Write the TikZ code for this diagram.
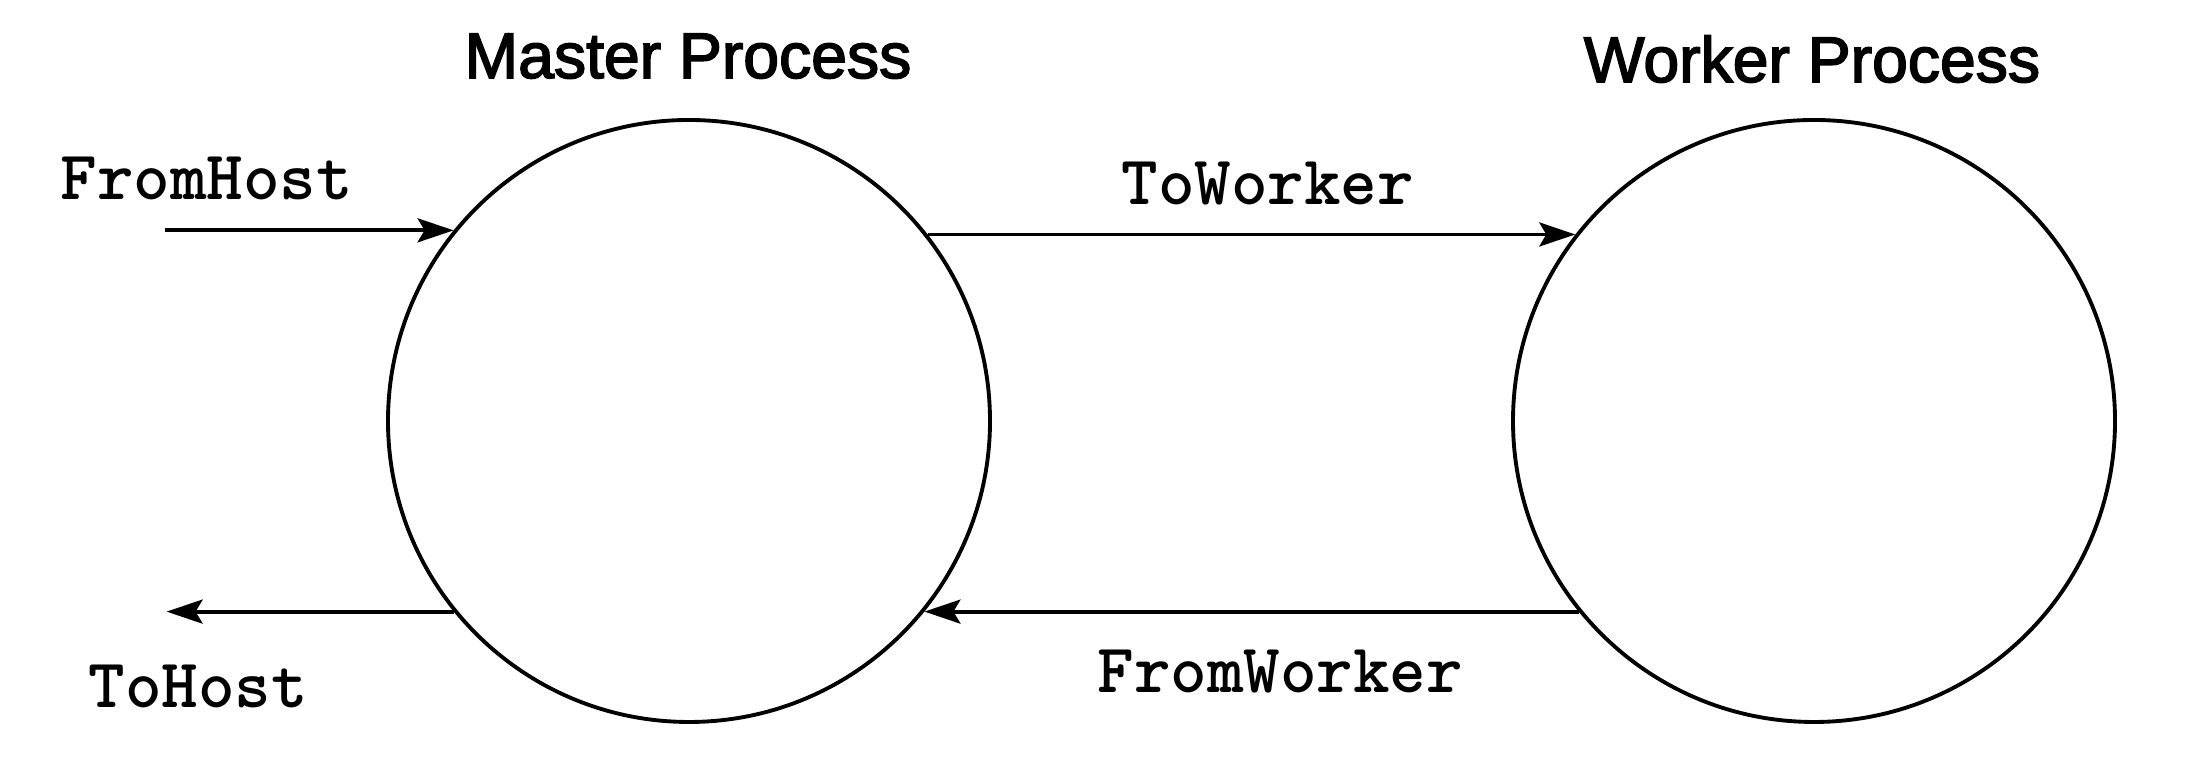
\documentclass[tikz,border=0pt]{standalone}
\usepackage{fontspec}
\newfontfamily\titlefont[FakeBold=2.5]{Liberation Sans}
\usetikzlibrary{arrows.meta}
\begin{document}
\begin{tikzpicture}[
                    proc/.style={draw, circle, line width=1.1pt, inner sep=0pt, minimum size=6.02cm},
                    title/.style={font=\titlefont\fontsize{18.3}{20}\selectfont, anchor=base},
                    chan/.style={font=\ttfamily\fontseries{b}\fontsize{19.8}{22}\selectfont, anchor=base west, inner sep=0pt},
                    flow/.style={line width=1.1pt, -{Stealth[length=0.36cm, width=0.24cm, inset=0.07cm]}}
                    ]
                    \useasboundingbox (0,0) rectangle (22,7.75);

                    % the two processes
                    \node[proc] (master) at (6.89,3.54) {};
                    \node[proc] (worker) at (18.14,3.54) {};
                    \node[title] (mastertitle) at (6.88,6.97) {Master Process};
                    \node[title] (workertitle) at (18.12,6.93) {Worker Process};

                    % free ends on the host side
                    \path (master.141) ++(-2.89,0) coordinate (hostin);
                    \path (master.219) ++(-2.87,0) coordinate (hostout);

                    \foreach \i/\j in {hostin/master.141, master.219/hostout, master.38/worker.142, worker.219/master.321}{
                        \draw[flow] (\i) -- (\j);
                    }

                    % channel names
                    \node[chan] (fromhost) at (0.60,5.75) {FromHost};
                    \node[chan] (tohost) at (0.88,0.67) {ToHost};
                    \node[chan] (toworker) at (11.21,5.70) {ToWorker};
                    \node[chan] (fromworker) at (10.97,0.82) {FromWorker};
                \end{tikzpicture}
\end{document}
